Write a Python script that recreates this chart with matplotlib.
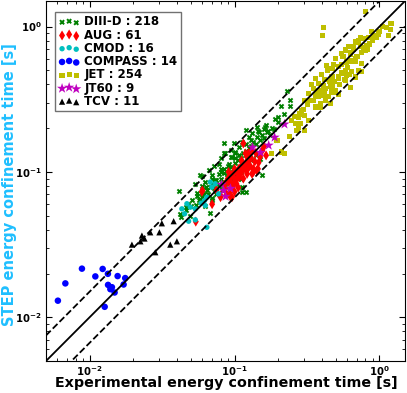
import numpy as np
import matplotlib
matplotlib.use("Agg")
import matplotlib.pyplot as plt

plt.rcParams['font.family'] = 'DejaVu Sans'
plt.rcParams['font.weight'] = 'bold'
plt.rcParams['mathtext.default'] = 'bf'

# experimental (x) vs STEP (y) energy confinement time [s]
diiid_x = [0.229, 0.24, 0.21, 0.24, 0.201, 0.085, 0.119, 0.142, 0.1585, 0.167, 0.186, 0.193,
           0.142, 0.119, 0.154, 0.119, 0.112, 0.0415, 0.0535, 0.06, 0.0695, 0.08, 0.0418, 0.043,
           0.046, 0.051, 0.0565, 0.0595, 0.066, 0.068, 0.0735, 0.0865, 0.094, 0.1, 0.084, 0.054,
           0.064, 0.0776, 0.0695, 0.063, 0.0495, 0.058, 0.063, 0.068, 0.0735, 0.0776, 0.084, 0.091,
           0.096, 0.1, 0.107, 0.112, 0.125, 0.132, 0.1465, 0.163, 0.177, 0.112, 0.109, 0.15,
           0.0985, 0.094, 0.0865, 0.081, 0.0776, 0.0717, 0.0662,
           0.05, 0.055, 0.06, 0.065, 0.07, 0.075, 0.08, 0.085, 0.09, 0.095, 0.10, 0.105, 0.11,
           0.115, 0.12, 0.13, 0.14, 0.15, 0.16, 0.17, 0.18, 0.13, 0.12, 0.10, 0.09, 0.08, 0.07,
           0.06, 0.055, 0.048, 0.046, 0.058, 0.062, 0.072, 0.078, 0.088, 0.098, 0.108, 0.125,
           0.135, 0.145, 0.155, 0.165, 0.2, 0.22, 0.19, 0.07, 0.075, 0.082, 0.09, 0.1, 0.11,
           0.12, 0.13, 0.14, 0.11, 0.095, 0.085]
diiid_y = [0.36, 0.311, 0.283, 0.283, 0.24, 0.157, 0.195, 0.203, 0.198, 0.189, 0.198, 0.167,
           0.175, 0.13, 0.095, 0.073, 0.079, 0.0735, 0.083, 0.094, 0.09, 0.1, 0.0515, 0.049,
           0.0543, 0.0636, 0.0636, 0.067, 0.0707, 0.0523, 0.0746, 0.083, 0.127, 0.134, 0.134, 0.059,
           0.079, 0.083, 0.0636, 0.0585, 0.0495, 0.095, 0.085, 0.079, 0.0874, 0.097, 0.105, 0.114,
           0.127, 0.137, 0.149, 0.16, 0.175, 0.184, 0.189, 0.203, 0.18, 0.073, 0.107, 0.122,
           0.157, 0.141, 0.134, 0.124, 0.114, 0.109, 0.1025,
           0.058, 0.068, 0.072, 0.075, 0.082, 0.088, 0.09, 0.098, 0.1, 0.108, 0.115, 0.12, 0.125,
           0.135, 0.14, 0.15, 0.155, 0.165, 0.17, 0.19, 0.2, 0.165, 0.155, 0.125, 0.11, 0.105, 0.095,
           0.08, 0.072, 0.06, 0.057, 0.065, 0.07, 0.078, 0.08, 0.092, 0.105, 0.13, 0.145,
           0.16, 0.19, 0.18, 0.21, 0.22, 0.25, 0.23, 0.066, 0.07, 0.075, 0.085, 0.095, 0.1,
           0.11, 0.12, 0.13, 0.09, 0.088, 0.08]

aug_x = [0.054, 0.06, 0.08, 0.096, 0.094, 0.0985, 0.091, 0.1, 0.0595, 0.08, 0.091, 0.107, 0.112,
         0.119, 0.132, 0.125, 0.135, 0.1465, 0.15, 0.115, 0.122, 0.109, 0.096, 0.103, 0.0865, 0.1,
         0.094, 0.132, 0.142, 0.085, 0.09, 0.095, 0.1, 0.105, 0.11, 0.115, 0.12, 0.125, 0.13, 0.103,
         0.108, 0.112, 0.118, 0.128, 0.138, 0.092, 0.097, 0.088, 0.125, 0.14, 0.155, 0.16, 0.07,
         0.165, 0.145, 0.075, 0.1, 0.106, 0.115, 0.122, 0.135]
aug_y = [0.0455, 0.0746, 0.067, 0.067, 0.085, 0.092, 0.1, 0.105, 0.073, 0.069, 0.085, 0.105, 0.12,
         0.134, 0.141, 0.107, 0.105, 0.116, 0.127, 0.157, 0.127, 0.097, 0.079, 0.083, 0.077, 0.073,
         0.067, 0.097, 0.1025, 0.082, 0.09, 0.095, 0.1, 0.098, 0.108, 0.112, 0.115, 0.12, 0.125, 0.088,
         0.092, 0.1, 0.105, 0.11, 0.118, 0.072, 0.08, 0.07, 0.135, 0.135, 0.14, 0.15, 0.06,
         0.13, 0.105, 0.075, 0.085, 0.078, 0.09, 0.097, 0.1]

cmod_x = [0.0433, 0.0469, 0.0495, 0.0536, 0.0482, 0.0536, 0.0628, 0.0644, 0.068, 0.0697, 0.0644,
          0.0776, 0.0621, 0.0589, 0.0452, 0.0736]
cmod_y = [0.0557, 0.0604, 0.0572, 0.0557, 0.0458, 0.0468, 0.0587, 0.0416, 0.0851, 0.0786, 0.067,
          0.0707, 0.0636, 0.0609, 0.0515, 0.0829]

compass_x = [0.00604, 0.0068, 0.00885, 0.01095, 0.0123, 0.01337, 0.0134, 0.0139, 0.01487, 0.0156,
             0.01716, 0.0176, 0.0127, 0.01425]
compass_y = [0.013, 0.0171, 0.0216, 0.0191, 0.0215, 0.0199, 0.0167, 0.0156, 0.0148, 0.0192,
             0.0168, 0.0186, 0.0118, 0.0161]

jet_x = [0.80, 0.41, 0.405, 1.19, 1.15, 0.985, 0.91, 0.84, 0.776, 0.716, 0.68, 0.611, 0.58, 0.662,
         0.735, 0.80, 0.82, 0.55, 0.63, 0.755, 0.68, 0.595, 0.521, 0.47, 0.43, 0.58, 0.645, 0.63,
         0.58, 0.521, 0.47, 0.42, 0.38, 0.351, 0.324, 0.305, 0.332, 0.36, 0.40, 0.445, 0.495, 0.47,
         0.422, 0.39, 0.29, 0.305, 0.276, 0.324, 0.284, 0.305, 0.276, 0.262, 0.246, 0.24, 0.27,
         0.21, 0.222, 0.18, 0.196, 0.36, 0.39, 0.422, 0.457, 0.482, 0.521, 0.595, 0.68, 0.716, 0.755,
         0.34, 0.36, 0.40, 0.44, 0.48, 0.50, 0.45, 0.38, 0.42, 0.46, 0.52, 0.55, 0.60, 0.64, 0.70,
         0.75, 0.78, 0.85, 0.90, 0.95, 1.0, 0.88, 0.72, 0.66, 0.56, 0.30, 0.32, 0.35, 0.37, 0.41,
         0.26, 0.28, 0.43, 0.49, 0.53, 0.57, 0.62, 0.47, 0.39, 0.55, 0.58, 0.63, 0.68, 0.82, 0.74,
         1.05, 1.2, 1.12]
jet_y = [1.27, 0.98, 0.87, 0.95, 0.87, 0.89, 0.87, 0.84, 0.83, 0.807, 0.79, 0.73, 0.69, 0.725,
         0.725, 0.69, 0.745, 0.65, 0.64, 0.56, 0.573, 0.57, 0.528, 0.515, 0.54, 0.50, 0.49, 0.38,
         0.428, 0.44, 0.45, 0.43, 0.405, 0.375, 0.347, 0.311, 0.311, 0.33, 0.337, 0.33, 0.365, 0.385,
         0.375, 0.365, 0.265, 0.245, 0.239, 0.227, 0.215, 0.193, 0.203, 0.215, 0.227, 0.175, 0.193,
         0.137, 0.134, 0.134, 0.165, 0.28, 0.295, 0.311, 0.295, 0.35, 0.34, 0.465, 0.45, 0.50, 0.49,
         0.40, 0.44, 0.47, 0.50, 0.55, 0.60, 0.42, 0.33, 0.36, 0.39, 0.45, 0.48, 0.52, 0.58, 0.62,
         0.66, 0.72, 0.76, 0.80, 0.84, 0.92, 0.93, 0.78, 0.70, 0.62, 0.27, 0.29, 0.31, 0.36, 0.39,
         0.24, 0.25, 0.33, 0.42, 0.40, 0.43, 0.47, 0.36, 0.28, 0.55, 0.50, 0.66, 0.60, 0.70, 0.84,
         1.0, 1.05, 0.98]

jt60_x = [0.084, 0.0867, 0.0813, 0.133, 0.151, 0.172, 0.189, 0.221, 0.0938]
jt60_y = [0.0745, 0.0678, 0.082, 0.1476, 0.136, 0.1524, 0.173, 0.213, 0.0769]

tcv_x = [0.01958, 0.0224, 0.02295, 0.0262, 0.0303, 0.0315, 0.038, 0.036, 0.04, 0.0284, 0.0239]
tcv_y = [0.0316, 0.0333, 0.0365, 0.0384, 0.0384, 0.0443, 0.0458, 0.0316, 0.0333, 0.028, 0.0348]

lims = [0.005, 1.5]
factor = 1.5

fig = plt.figure(figsize=(4.07, 3.93), dpi=100)
ax = fig.add_axes([46 / 407, 32 / 393, 359 / 407, 360 / 393])

ax.scatter(diiid_x, diiid_y, marker='x', s=9, linewidths=1.4, color=(0, 0.5, 0),
           label='DIII-D : 218')
ax.scatter(aug_x, aug_y, marker='d', s=26, color='r', edgecolors='none', label='AUG : 61')
ax.scatter(cmod_x, cmod_y, marker='o', s=15, color=(0, 0.75, 0.75), edgecolors='none',
           label='CMOD : 16')
ax.scatter(compass_x, compass_y, marker='o', s=22, color='b', edgecolors='none',
           label='COMPASS : 14')
ax.scatter(jet_x, jet_y, marker='s', s=14, color=(0.75, 0.75, 0), edgecolors='none',
           label='JET : 254')
ax.scatter(jt60_x, jt60_y, marker='*', s=60, color=(0.75, 0, 0.75), edgecolors='none',
           label='JT60 : 9')
ax.scatter(tcv_x, tcv_y, marker='^', s=20, color='k', edgecolors='none', label='TCV : 11')

ax.plot(lims, lims, 'k-', lw=1.3)
ax.plot(lims, [v * factor for v in lims], 'k--', lw=1.3)
ax.plot(lims, [v / factor for v in lims], 'k--', lw=1.3)

ax.set_xscale('log')
ax.set_yscale('log')
ax.set_xlim(lims)
ax.set_ylim(lims)

ax.tick_params(which='both', direction='in', top=True, right=True, labelsize=7.3)
ax.tick_params(axis='x', pad=2)
ax.tick_params(axis='y', pad=3)
ax.tick_params(which='major', length=4)
ax.tick_params(which='minor', length=2)

ax.set_xlabel('Experimental energy confinement time [s]', fontsize=10.3, fontweight='bold')
ax.set_ylabel('STEP energy confinement time [s]', fontsize=10.5, fontweight='bold',
              color='#1fbfff')
ax.xaxis.set_label_coords(0.503, -0.043)
ax.yaxis.set_label_coords(-0.082, 0.49)

leg = ax.legend(loc='upper left', scatterpoints=3, fontsize=8.5, fancybox=False,
                handletextpad=0.4, borderpad=0.3, labelspacing=0.02, handlelength=1.8,
                borderaxespad=0.0, bbox_to_anchor=(0.025, 0.97))
leg.get_frame().set_edgecolor('0.3')
for t in leg.get_texts():
    t.set_fontweight('bold')

fig.savefig('out.png', dpi=100)
